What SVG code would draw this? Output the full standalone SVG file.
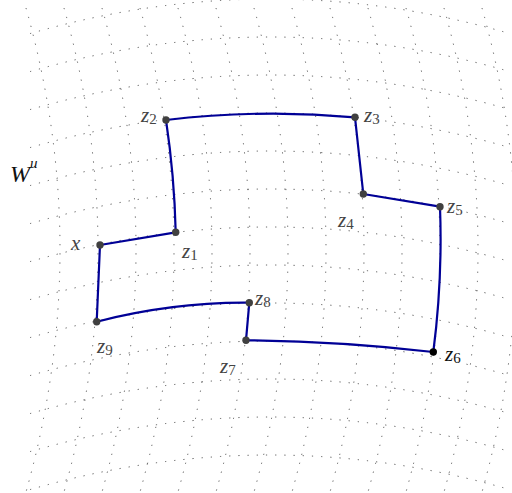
<svg xmlns="http://www.w3.org/2000/svg" width="512" height="493" viewBox="0 0 512 493">
<style>
.g{fill:none;stroke:#555;stroke-width:1;stroke-dasharray:1.2 8}
.e{fill:none;stroke:#000096;stroke-width:2.2;stroke-linejoin:round}
.d{fill:#404040}
.l{font-family:"Liberation Serif",serif;font-style:italic;font-size:21px;fill:#444}
.s{font-style:normal;font-size:15px}
</style>
<rect width="512" height="493" fill="#fff"/>
<g id="grid">
<path class="g" d="M26,8Q94,250 26,492"/>
<path class="g" d="M64,8Q132,250 64,492"/>
<path class="g" d="M102,8Q170,250 102,492"/>
<path class="g" d="M140,8Q208,250 140,492"/>
<path class="g" d="M178,8Q246,250 178,492"/>
<path class="g" d="M216,8Q284,250 216,492"/>
<path class="g" d="M254,8Q322,250 254,492"/>
<path class="g" d="M292,8Q360,250 292,492"/>
<path class="g" d="M330,8Q398,250 330,492"/>
<path class="g" d="M368,8Q436,250 368,492"/>
<path class="g" d="M406,8Q474,250 406,492"/>
<path class="g" d="M444,8Q512,250 444,492"/>
<path class="g" d="M482,8Q550,250 482,492"/>
<path class="g" d="M30,33.6Q270,-35.6 510,33.6"/>
<path class="g" d="M30,71.6Q270,2.4 510,71.6"/>
<path class="g" d="M30,109.6Q270,40.4 510,109.6"/>
<path class="g" d="M30,147.6Q270,78.4 510,147.6"/>
<path class="g" d="M30,185.6Q270,116.4 510,185.6"/>
<path class="g" d="M30,223.6Q270,154.4 510,223.6"/>
<path class="g" d="M30,261.6Q270,192.4 510,261.6"/>
<path class="g" d="M30,299.6Q270,230.4 510,299.6"/>
<path class="g" d="M30,337.6Q270,268.4 510,337.6"/>
<path class="g" d="M30,375.6Q270,306.4 510,375.6"/>
<path class="g" d="M30,413.6Q270,344.4 510,413.6"/>
<path class="g" d="M30,451.6Q270,382.4 510,451.6"/>
<path class="g" d="M30,489.6Q270,420.4 510,489.6"/>
</g>
<g id="connectors">
<path class="e" d="M100,245L175.7,232.3Q174.4,176 166,120Q260.5,108.7 355,117.3L363.3,194L440,206.7Q442.7,279.3 433.3,352Q339.7,341.2 246,340.3L249.3,302.7Q173,302 96.7,321.7L100,245"/>
</g>
<g id="x"><circle class="d" cx="100" cy="245" r="3.7"/><text class="l" x="71" y="250">x</text></g>
<g id="z1"><circle class="d" cx="175.7" cy="232.3" r="3.7"/><text class="l" x="182" y="258">z<tspan class="s" dy="2">1</tspan></text></g>
<g id="z2"><circle class="d" cx="166" cy="120" r="3.7"/><text class="l" x="141" y="122">z<tspan class="s" dy="2">2</tspan></text></g>
<g id="z3"><circle class="d" cx="355" cy="117.3" r="3.7"/><text class="l" x="364" y="122">z<tspan class="s" dy="2">3</tspan></text></g>
<g id="z4"><circle class="d" cx="363.3" cy="194" r="3.7"/><text class="l" x="338" y="227">z<tspan class="s" dy="2">4</tspan></text></g>
<g id="z5"><circle class="d" cx="440" cy="206.7" r="3.7"/><text class="l" x="447" y="213">z<tspan class="s" dy="2">5</tspan></text></g>
<g id="z6"><circle cx="433.3" cy="352" r="3.7" fill="#000"/><text class="l" x="445" y="361" style="fill:#111">z<tspan class="s" dy="2">6</tspan></text></g>
<g id="z7"><circle class="d" cx="246" cy="340.3" r="3.7"/><text class="l" x="220" y="373">z<tspan class="s" dy="2">7</tspan></text></g>
<g id="z8"><circle class="d" cx="249.3" cy="302.7" r="3.7"/><text class="l" x="255" y="305">z<tspan class="s" dy="2">8</tspan></text></g>
<g id="z9"><circle class="d" cx="96.7" cy="321.7" r="3.7"/><text class="l" x="97" y="353">z<tspan class="s" dy="2">9</tspan></text></g>
<g id="Wu"><text class="l" x="10" y="182" style="font-size:24px;fill:#111">W<tspan dy="-14" style="font-size:15px">u</tspan></text></g>
</svg>
